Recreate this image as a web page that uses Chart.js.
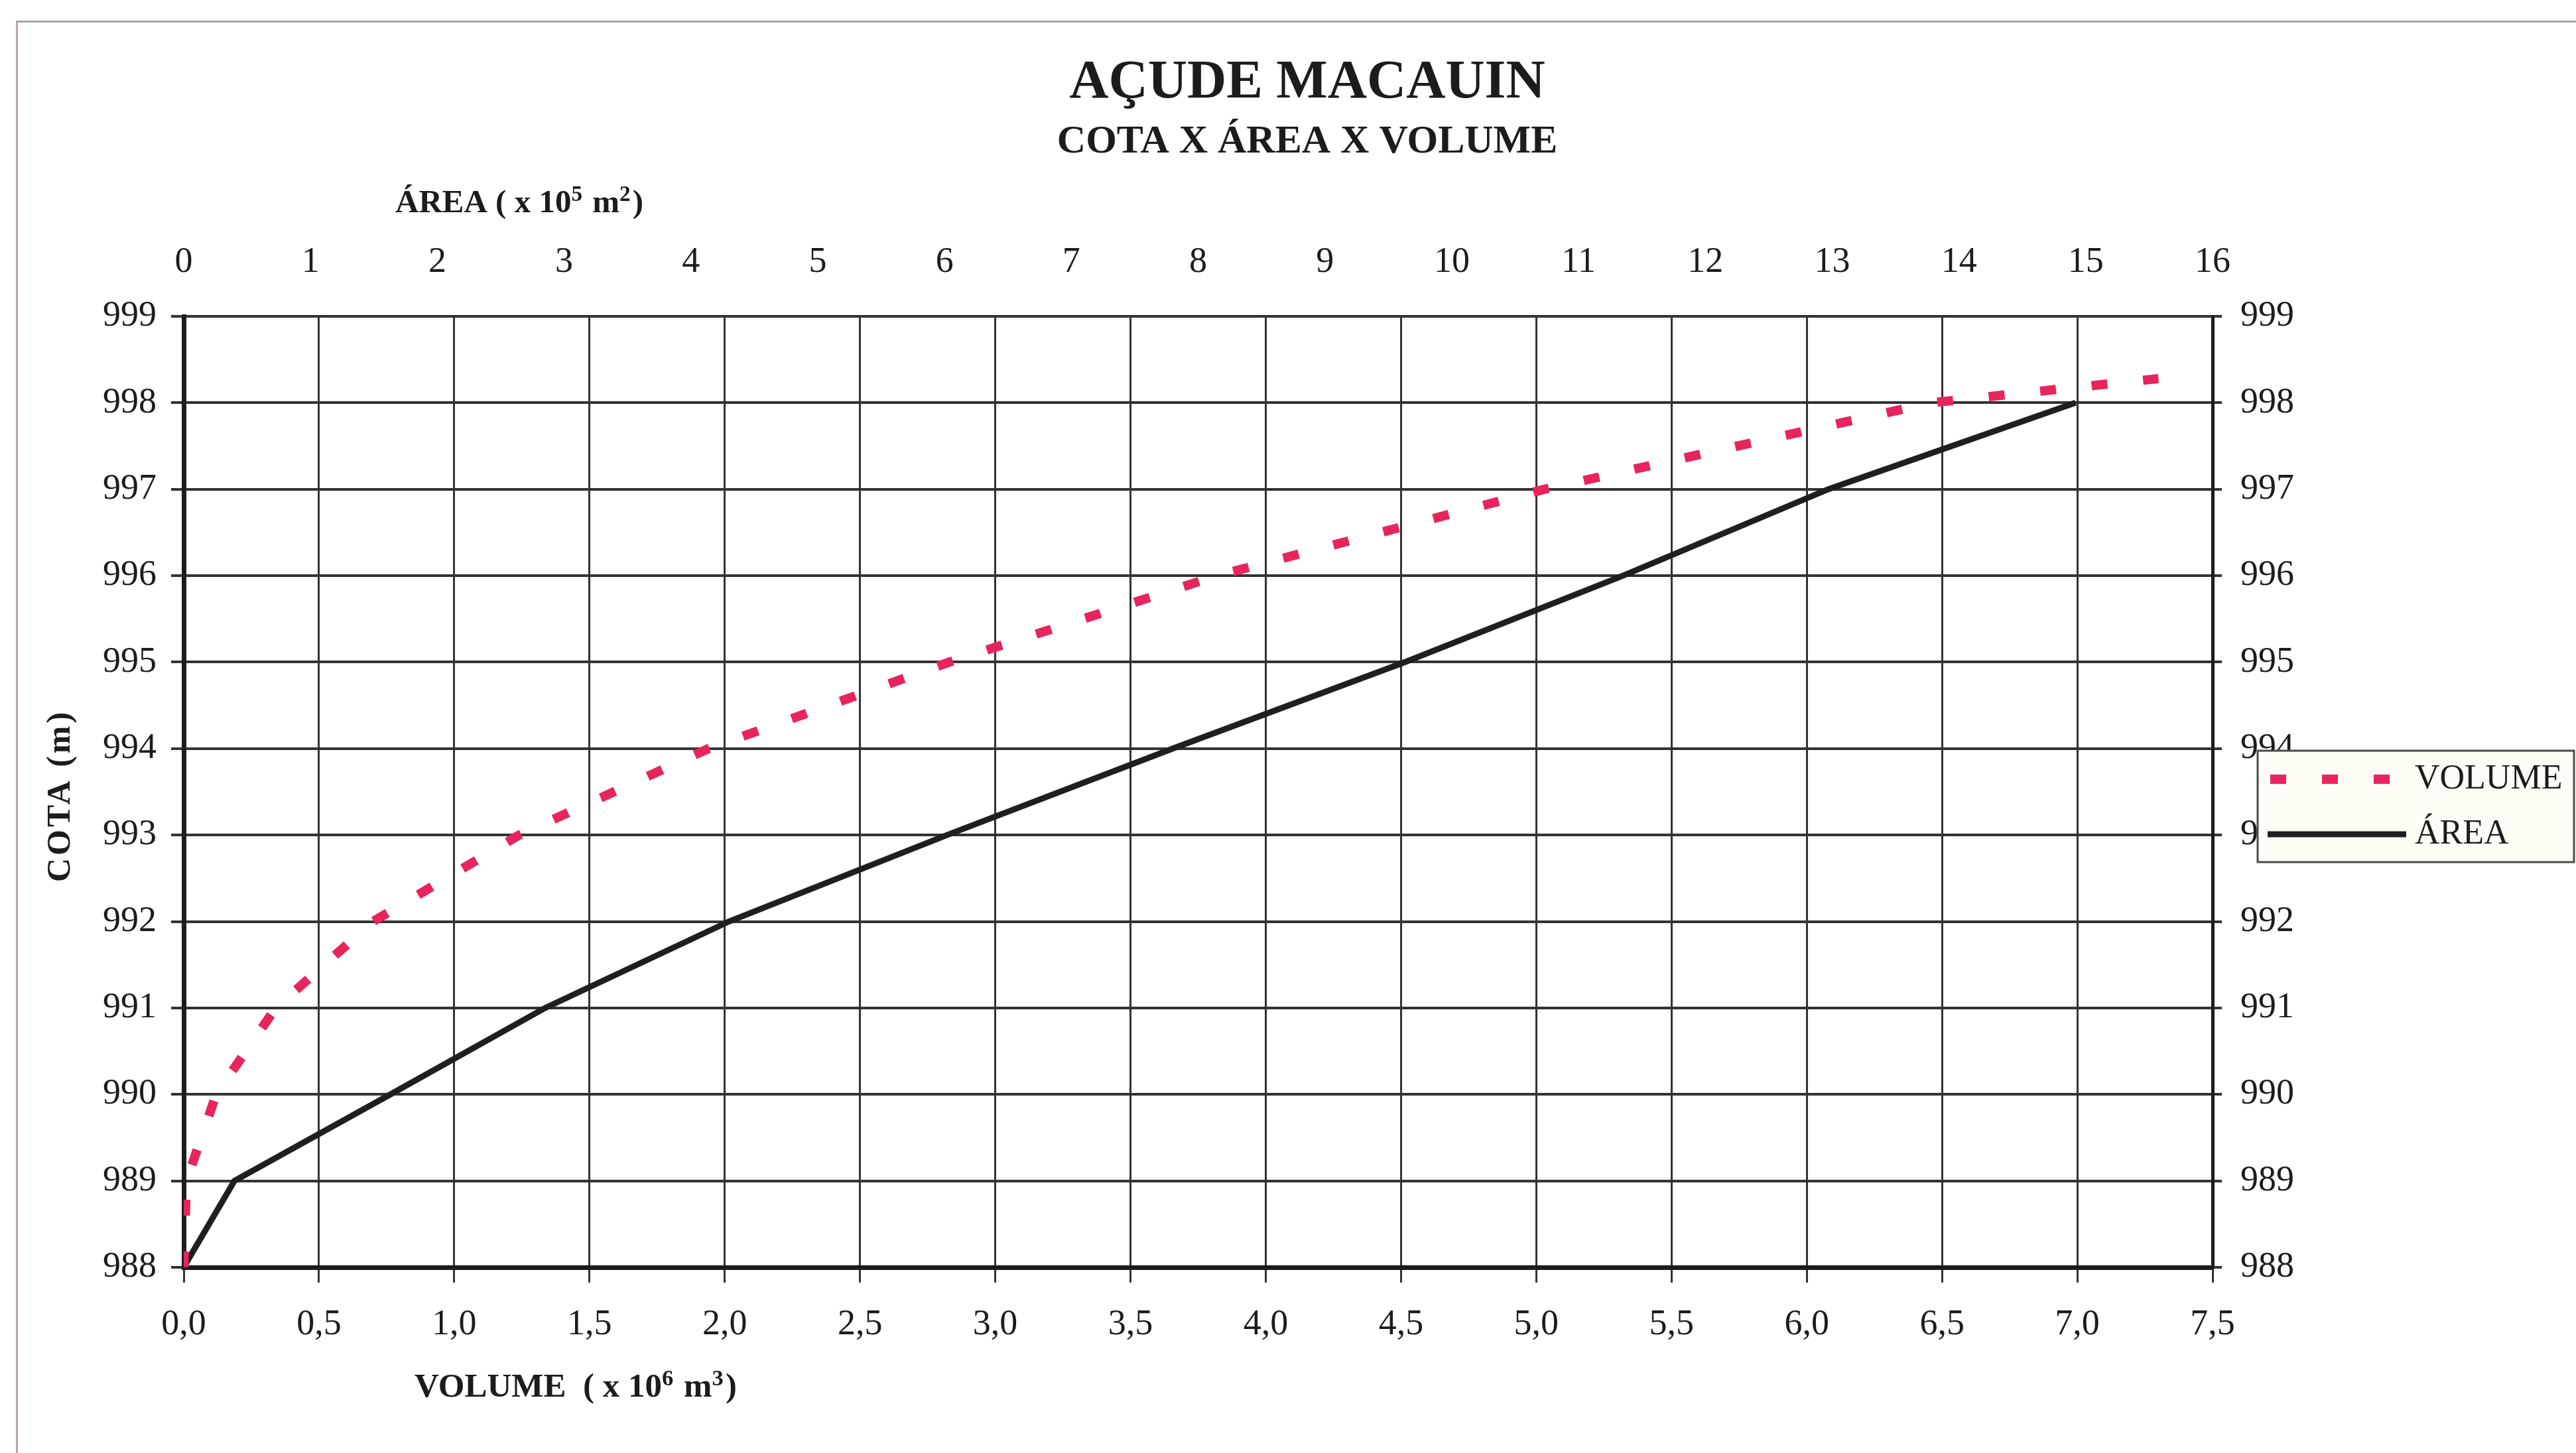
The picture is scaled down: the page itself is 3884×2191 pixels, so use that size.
<!DOCTYPE html>
<html lang="pt-BR">
<head>
<meta charset="utf-8">
<title>Açude Macauin - Cota x Área x Volume</title>
<script src="https://cdn.jsdelivr.net/npm/chart.js@4.4.1/dist/chart.umd.min.js"></script>
<style>
  html, body { margin: 0; padding: 0; background: #fff; }
  #wrap  { position: relative; width: 3884px; height: 2191px; overflow: hidden; }
  #frame { position: absolute; left: 24px; top: 31px; right: -10px; bottom: -10px;
           border-top: 3px solid #a6a6a6; border-left: 3px solid #b9a0a7; }
  canvas { position: absolute; left: 0; top: 0; }
</style>
</head>
<body>
<div id="wrap">
  <div id="frame"></div>
  <canvas id="chart" width="3884" height="2191"></canvas>
</div>
<script>
// ─── Data ────────────────────────────────────────────────────────────────────
// cota (m) vs volume (x 10^6 m3)
const COTA_VOLUME = [988, 989, 990, 991, 992, 993, 994, 995, 996, 997, 998, 998.28];
const VOLUME      = [0.00, 0.01, 0.12, 0.34, 0.70, 1.24, 1.94, 2.83, 3.82, 5.03, 6.46, 7.30];

// cota (m) vs área (x 10^5 m2)
const COTA_AREA = [988, 989, 990, 991, 992, 993, 994, 995, 996, 997, 998];
const AREA      = [0.00, 0.40, 1.63, 2.85, 4.30, 6.02, 7.80, 9.63, 11.35, 12.97, 14.92];

// axis ranges / steps
const COTA_RANGE   = [988, 999];
const VOLUME_RANGE = [0, 7.5];
const AREA_RANGE   = [0, 16];
const VOLUME_STEP  = 0.5;
const AREA_STEP    = 1;
const COTA_STEP    = 1;

const SERIES_LABELS = ["VOLUME", "ÁREA"];

// ─── Style ───────────────────────────────────────────────────────────────────
const FONT     = "'Liberation Serif', 'Times New Roman', serif";
const INK      = "#1c1c1c";
const PINK     = "#e8245c";
const GRID     = "#333333";
const TICK_PX  = 54;

Chart.defaults.font.family = FONT;
Chart.defaults.color       = INK;

function volLabel(v) { return v.toFixed(1).replace(".", ","); }

// text with raised digits, e.g. "x 10⁵ m²"
function drawRuns(ctx, runs, x, y, size) {
    let cx = x;
    runs.forEach(r => {
        const s = r.sup ? size * 0.68 : size;
        ctx.font = `bold ${s}px ${FONT}`;
        ctx.fillText(r.t, cx, r.sup ? y - size * 0.26 : y);
        cx += ctx.measureText(r.t).width + (r.sup ? size * 0.06 : 0);
    });
}

// ─── Headings, axis captions and legend box ──────────────────────────────────
const sheetText = {
    id: "sheetText",
    afterDraw(chart) {
        const c = chart.ctx;
        c.save();
        c.fillStyle = INK;
        c.textBaseline = "middle";

        c.textAlign = "center";
        c.font = `bold 82px ${FONT}`;
        c.fillText("AÇUDE MACAUIN", 1971, 126);
        c.font = `bold 60px ${FONT}`;
        c.fillText("COTA X ÁREA X VOLUME", 1971, 214);

        c.textAlign = "left";
        drawRuns(c, [{ t: "ÁREA ( x 10" }, { t: "5", sup: true }, { t: " m" }, { t: "2", sup: true }, { t: ")" }], 596, 307, 49);
        drawRuns(c, [{ t: "VOLUME  ( x 10" }, { t: "6", sup: true }, { t: " m" }, { t: "3", sup: true }, { t: ")" }], 625, 2093, 51);

        c.save();
        c.translate(92, 1200);
        c.rotate(-Math.PI / 2);
        c.textAlign = "center";
        c.letterSpacing = "4px";
        c.font = `bold 50px ${FONT}`;
        c.fillText("COTA (m)", 0, 0);
        c.restore();

        // legend
        const box = { left: 3404, top: 1132, right: 3881, bottom: 1300 };
        c.fillStyle = "#fdfdf6";
        c.fillRect(box.left, box.top, box.right - box.left, box.bottom - box.top);
        c.strokeStyle = "#4a4a4a";
        c.lineWidth = 3;
        c.strokeRect(box.left, box.top, box.right - box.left, box.bottom - box.top);

        chart.data.datasets.forEach((ds, i) => {
            const y = 1175 + i * 83;
            c.beginPath();
            c.setLineDash(ds.borderDash || []);
            c.lineDashOffset = ds.borderDash ? -4 : 0;
            c.lineCap = "butt";
            c.strokeStyle = ds.borderColor;
            c.lineWidth = ds.borderWidth;
            c.moveTo(3419, y);
            c.lineTo(3628, y);
            c.stroke();
            c.setLineDash([]);
            c.fillStyle = INK;
            c.textAlign = "left";
            c.font = `52px ${FONT}`;
            c.fillText(ds.label, 3641, y);
        });
        c.restore();
    }
};

// ─── Chart ───────────────────────────────────────────────────────────────────
new Chart(document.getElementById("chart"), {
    type: "scatter",
    plugins: [sheetText],
    data: {
        datasets: [
            {
                label: SERIES_LABELS[0],
                data: VOLUME.map((v, i) => ({ x: v, y: COTA_VOLUME[i] })),
                xAxisID: "x",
                yAxisID: "y",
                showLine: true,
                borderColor: PINK,
                backgroundColor: PINK,
                borderWidth: 14,
                borderDash: [24, 54],
                borderCapStyle: "butt",
                pointRadius: 0,
                tension: 0,
            },
            {
                label: SERIES_LABELS[1],
                data: AREA.map((a, i) => ({ x: a, y: COTA_AREA[i] })),
                xAxisID: "x2",
                yAxisID: "y",
                showLine: true,
                borderColor: "#1f1f1f",
                backgroundColor: "#1f1f1f",
                borderWidth: 9,
                pointRadius: 0,
                tension: 0,
            }
        ]
    },
    options: {
        responsive: false,
        animation: false,
        layout: { padding: 0 },
        plugins: {
            legend: { display: false },
            tooltip: { enabled: false },
        },
        scales: {
            x: {
                type: "linear", position: "bottom",
                min: VOLUME_RANGE[0], max: VOLUME_RANGE[1],
                afterFit: s => { s.height = 280; },
                ticks: { stepSize: VOLUME_STEP, maxTicksLimit: 30, autoSkip: false, maxRotation: 0,
                         padding: 31, font: { size: TICK_PX }, callback: v => volLabel(v) },
                grid: { color: GRID, lineWidth: 3, tickLength: 23 },
                border: { color: INK, width: 7 },
            },
            x2: {
                type: "linear", position: "top",
                min: AREA_RANGE[0], max: AREA_RANGE[1],
                afterFit: s => { s.height = 477; },
                ticks: { stepSize: AREA_STEP, maxTicksLimit: 30, autoSkip: false, maxRotation: 0,
                         padding: 49, font: { size: TICK_PX }, callback: v => String(v) },
                grid: { display: false, drawTicks: false },
                border: { display: false },
            },
            y: {
                type: "linear", position: "left",
                min: COTA_RANGE[0], max: COTA_RANGE[1],
                afterFit: s => { s.width = 277; },
                ticks: { stepSize: COTA_STEP, maxTicksLimit: 30, autoSkip: false,
                         padding: 22, font: { size: TICK_PX }, callback: v => String(v) },
                grid: { color: GRID, lineWidth: 4, tickLength: 19 },
                border: { color: INK, width: 7 },
            },
            y2: {
                type: "linear", position: "right",
                min: COTA_RANGE[0], max: COTA_RANGE[1],
                afterFit: s => { s.width = 548; },
                ticks: { stepSize: COTA_STEP, maxTicksLimit: 30, autoSkip: false,
                         padding: 28, font: { size: TICK_PX }, callback: v => String(v) },
                grid: { drawOnChartArea: false, color: GRID, lineWidth: 4, tickLength: 14 },
                border: { color: INK, width: 5 },
            }
        }
    }
});
</script>
</body>
</html>
